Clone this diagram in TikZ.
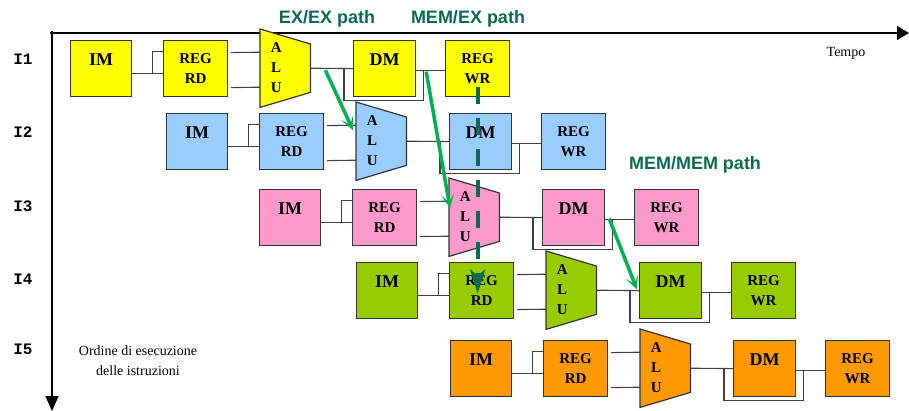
\documentclass[tikz,border=0pt]{standalone}
\usepackage{fontspec}
\setmainfont{Liberation Serif}
\newfontfamily\pathfont{Liberation Sans}
\newfontfamily\rowfont{Liberation Mono}
\usetikzlibrary{arrows.meta,calc}

\definecolor{cYellow}{HTML}{FFFF00}
\definecolor{cBlue}{HTML}{99CCFF}
\definecolor{cPink}{HTML}{FF99CC}
\definecolor{cGreen}{HTML}{99CC00}
\definecolor{cOrange}{HTML}{FF9900}
\definecolor{boxline}{HTML}{333333}
\definecolor{wirecol}{HTML}{404040}
\definecolor{fwdgreen}{HTML}{00B050}
\definecolor{pathgreen}{HTML}{0B6B4F}

\begin{document}
\begin{tikzpicture}[x=1pt,y=-1pt,
  unitbox/.style={draw=boxline, line width=1.2pt, anchor=north west,
    inner sep=0pt, minimum height=56pt},
  imtext/.style={font=\bfseries\fontsize{18}{20}\selectfont,
    text height=12pt, text depth=18pt},
  regtext/.style={font=\bfseries\fontsize{15}{20}\selectfont, align=center},
  alushape/.style={anchor=north west, inner sep=0pt,
    minimum width=50pt, minimum height=78pt},
  alutext/.style={font=\bfseries\fontsize{15}{20}\selectfont, align=center, inner sep=0pt},
  wire/.style={draw=wirecol, line width=1.1pt},
  fwd/.style={draw=fwdgreen, line width=3.5pt,
    -{Stealth[length=14pt,width=13pt,inset=8pt]}},
  hazard/.style={draw=pathgreen, line width=4pt, dash pattern=on 17pt off 14pt,
    -{Stealth[length=24pt,width=15pt,inset=6pt]}},
  pathlabel/.style={text=pathgreen, font=\pathfont\bfseries\fontsize{18}{20}\selectfont},
  rowlabel/.style={font=\rowfont\bfseries\fontsize{16}{18}\selectfont},
  note/.style={font=\fontsize{14}{20}\selectfont, align=center},
  axis/.style={draw=black, line width=1.3pt}
]
\useasboundingbox (0,0) rectangle (909,411);

% time and instruction-order axes
\coordinate (o) at (52,33);
\coordinate (tx) at (909,33);
\coordinate (ty) at (52,411);
\draw[axis, -{Triangle[length=12pt,width=14pt]}] ($(o)+(-2,0)$) -- (tx);
\draw[axis, -{Triangle[length=15pt,width=13pt]}] ($(o)+(0,-2)$) -- (ty);
\node[note] (tempo) at (846,53) {Tempo};
\node[note] (ordine) at (138,361) {Ordine di esecuzione\\delle istruzioni};

% instruction labels
\node[rowlabel] (i1) at (23,59) {I1};
\node[rowlabel] (i2) at (23,132) {I2};
\node[rowlabel] (i3) at (23,206) {I3};
\node[rowlabel] (i4) at (23,279) {I4};
\node[rowlabel] (i5) at (23,349) {I5};

% pipeline stages of each instruction
\foreach \r/\x/\y/\col in {1/70/40/cYellow,2/166/113/cBlue,3/259/189/cPink,
                           4/356/262/cGreen,5/450/340/cOrange}{
  \node[unitbox, fill=\col, minimum width=61pt, imtext] (im\r) at (\x,\y) {IM};
  \node[unitbox, fill=\col, minimum width=64pt, regtext] (rd\r) at (\x+93,\y) {REG\\RD};
  \node[alushape] (alu\r) at (\x+190,\y-11) {};
  \filldraw[fill=\col, draw=boxline, line width=1.2pt]
    (alu\r.north west) -- ($(alu\r.north east)+(0,15)$)
    -- ($(alu\r.south east)+(0,-15)$) -- (alu\r.south west) -- cycle;
  \node[alutext] (alut\r) at ($(alu\r.center)+(-9,-1)$) {A\\L\\U};
  \node[unitbox, fill=\col, minimum width=62pt, imtext] (dm\r) at (\x+283,\y) {DM};
  \node[unitbox, fill=\col, minimum width=64pt, regtext] (wr\r) at (\x+375,\y) {REG\\WR};
  % IM -> REG RD
  \draw[wire] ($(im\r.east)+(0,5)$) -- ($(rd\r.west)+(0,5)$);
  \draw[wire] ($(im\r.east)+(20,5)$) |- ($(rd\r.west)+(0,-17)$);
  % REG RD -> ALU
  \draw[wire] ($(rd\r.east)+(3,-16)$) -- ($(alu\r.west)+(0,-16)$);
  \draw[wire] ($(rd\r.east)+(3,19)$) -- ($(alu\r.west)+(0,19)$);
  % ALU -> DM, with the path around DM
  \draw[wire] (alu\r.east) -- (dm\r.west);
  \draw[wire] ($(dm\r.west)+(-9,0)$) |- ($(dm\r.south east)+(7,3)$) -- ($(dm\r.east)+(7,2)$);
  % DM -> REG WR
  \draw[wire] ($(dm\r.east)+(0,2)$) -- ($(wr\r.west)+(0,2)$);
}

% forwarding paths
\draw[fwd] ($(alu1.east)+(15,2)$) -- ($(alu2.west)+(-3,-11)$);
\draw[fwd] ($(dm1.east)+(10,3)$) -- ($(alu3.west)+(1,-9)$);
\draw[fwd] ($(dm3.east)+(4,1)$) -- ($(dm4.west)+(-2,-1)$);

% register write -> register read dependency
\draw[hazard] ($(wr1.south)+(0,-10)$) -- ($(wr1.south |- rd4.center)+(0,3)$);

\node[pathlabel] (exex) at (327,19) {EX/EX path};
\node[pathlabel] (memex) at (468,19) {MEM/EX path};
\node[pathlabel] (memmem) at (695,165) {MEM/MEM path};
\end{tikzpicture}
\end{document}
